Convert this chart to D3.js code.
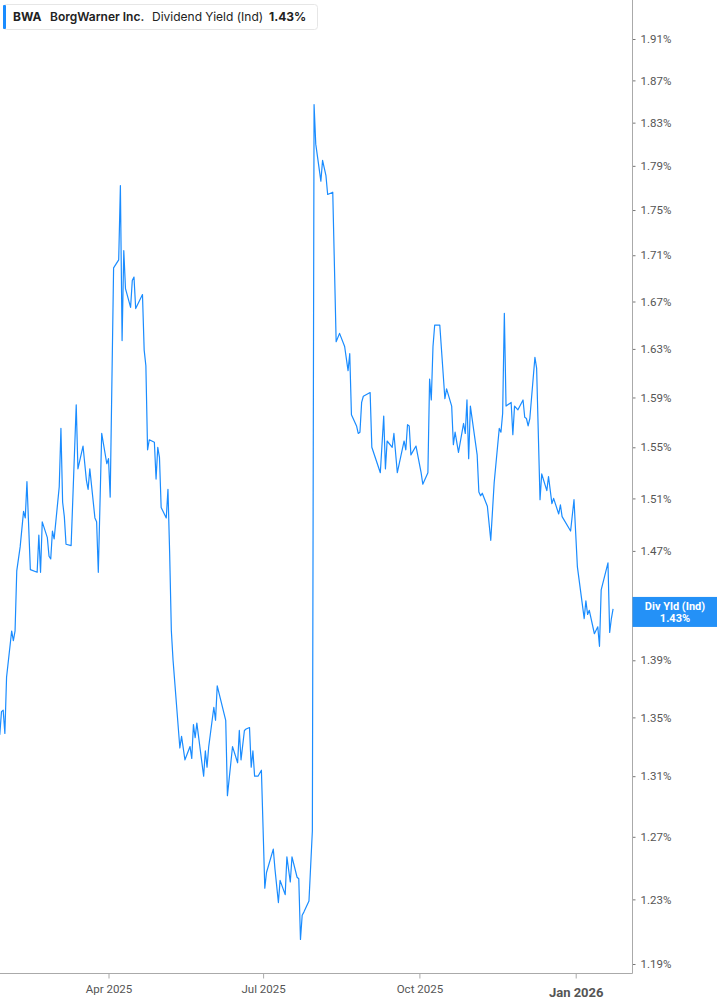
<!DOCTYPE html>
<html>
<head>
<meta charset="utf-8">
<script src="https://cdn.jsdelivr.net/npm/d3@7"></script>
<style>
  html, body { margin: 0; padding: 0; background: #fff; }
  svg { display: block; }
</style>
</head>
<body>
<div id="chart"></div>
<script>
// ---- data ----
const dates = [
  "2025-01-27","2025-01-28","2025-01-29","2025-01-30","2025-01-31",
  "2025-02-03","2025-02-04","2025-02-05","2025-02-06","2025-02-08","2025-02-10","2025-02-11","2025-02-12","2025-02-14","2025-02-18","2025-02-19","2025-02-20","2025-02-21","2025-02-24","2025-02-25","2025-02-26","2025-02-27","2025-02-28",
  "2025-03-03","2025-03-04","2025-03-05","2025-03-06","2025-03-07","2025-03-10","2025-03-13","2025-03-14","2025-03-17","2025-03-19","2025-03-20","2025-03-21","2025-03-24","2025-03-25","2025-03-26","2025-03-28","2025-03-31",
  "2025-04-01","2025-04-02","2025-04-04","2025-04-07","2025-04-08","2025-04-09","2025-04-10","2025-04-11","2025-04-14","2025-04-15","2025-04-16","2025-04-17","2025-04-21","2025-04-22","2025-04-23","2025-04-24","2025-04-25","2025-04-28","2025-04-29","2025-04-30",
  "2025-05-01","2025-05-02","2025-05-05","2025-05-06","2025-05-07","2025-05-08","2025-05-09","2025-05-13","2025-05-14","2025-05-16","2025-05-19","2025-05-20","2025-05-21","2025-05-22","2025-05-23","2025-05-27","2025-05-28","2025-05-29","2025-05-30",
  "2025-06-02","2025-06-03","2025-06-04","2025-06-09","2025-06-10","2025-06-13","2025-06-16","2025-06-17","2025-06-18","2025-06-20","2025-06-21","2025-06-23","2025-06-24","2025-06-25","2025-06-26","2025-06-28","2025-06-30",
  "2025-07-02","2025-07-03","2025-07-07","2025-07-08","2025-07-10","2025-07-11","2025-07-14","2025-07-15","2025-07-17","2025-07-18","2025-07-21","2025-07-22","2025-07-23","2025-07-24","2025-07-25","2025-07-28","2025-07-30","2025-07-31",
  "2025-08-01","2025-08-04","2025-08-05","2025-08-07","2025-08-08","2025-08-11","2025-08-13","2025-08-15","2025-08-18","2025-08-20","2025-08-21","2025-08-22","2025-08-25","2025-08-26","2025-08-27","2025-08-28","2025-08-29",
  "2025-09-02","2025-09-03","2025-09-08","2025-09-10","2025-09-11","2025-09-12","2025-09-15","2025-09-16","2025-09-18","2025-09-22","2025-09-23","2025-09-24","2025-09-25","2025-09-26","2025-09-29",
  "2025-10-02","2025-10-03","2025-10-06","2025-10-07","2025-10-08","2025-10-09","2025-10-10","2025-10-13","2025-10-16","2025-10-17","2025-10-20","2025-10-21","2025-10-22","2025-10-24","2025-10-27","2025-10-28","2025-10-29","2025-10-30","2025-10-31",
  "2025-11-04","2025-11-05","2025-11-06","2025-11-07","2025-11-10","2025-11-12","2025-11-14","2025-11-17","2025-11-18","2025-11-19","2025-11-20","2025-11-21","2025-11-24","2025-11-25","2025-11-26","2025-11-28",
  "2025-12-01","2025-12-02","2025-12-03","2025-12-04","2025-12-05","2025-12-08","2025-12-09","2025-12-11","2025-12-12","2025-12-15","2025-12-16","2025-12-18","2025-12-19","2025-12-22","2025-12-23","2025-12-24","2025-12-29","2025-12-31",
  "2026-01-02","2026-01-06","2026-01-07","2026-01-08","2026-01-09","2026-01-12","2026-01-14","2026-01-15","2026-01-16","2026-01-20","2026-01-21","2026-01-22","2026-01-23"
];
const yields = [
  1.338,1.354,1.355,1.339,1.378,
  1.411,1.404,1.411,1.455,1.473,1.500,1.495,1.523,1.456,1.454,1.482,1.454,1.492,1.480,1.466,1.464,1.485,1.479,
  1.519,1.565,1.507,1.496,1.475,1.474,1.584,1.533,1.551,1.524,1.517,1.533,1.495,1.492,1.454,1.561,1.537,
  1.541,1.511,1.699,1.706,1.772,1.637,1.714,1.681,1.665,1.688,1.691,1.664,1.676,1.629,1.616,1.548,1.556,1.554,1.525,1.550,
  1.542,1.503,1.495,1.517,1.468,1.411,1.390,1.329,1.337,1.321,1.330,1.322,1.345,1.336,1.346,1.310,1.327,1.316,1.330,
  1.357,1.348,1.372,1.348,1.297,1.330,1.319,1.341,1.321,1.341,1.342,1.343,1.316,1.327,1.310,1.310,1.314,
  1.237,1.247,1.262,1.249,1.228,1.242,1.233,1.257,1.241,1.257,1.244,1.243,1.205,1.220,1.222,1.229,1.274,1.847,
  1.810,1.776,1.795,1.781,1.764,1.766,1.636,1.643,1.632,1.612,1.626,1.576,1.567,1.561,1.562,1.586,1.591,
  1.594,1.550,1.530,1.575,1.533,1.555,1.550,1.561,1.530,1.555,1.548,1.568,1.567,1.544,1.551,
  1.530,1.521,1.530,1.605,1.588,1.632,1.650,1.650,1.589,1.597,1.583,1.552,1.562,1.546,1.569,1.561,1.588,1.541,1.583,
  1.544,1.515,1.512,1.514,1.504,1.478,1.522,1.565,1.562,1.577,1.660,1.583,1.586,1.560,1.583,1.580,
  1.588,1.574,1.573,1.567,1.573,1.623,1.614,1.509,1.529,1.516,1.527,1.506,1.510,1.498,1.505,1.496,1.485,1.509,
  1.458,1.420,1.433,1.423,1.426,1.409,1.414,1.400,1.441,1.461,1.410,1.420,1.427
];
const yTicks = [1.19,1.23,1.27,1.31,1.35,1.39,1.43,1.47,1.51,1.55,1.59,1.63,1.67,1.71,1.75,1.79,1.83,1.87,1.91];
const xTicks = ["2025-04-01","2025-07-01","2025-10-01","2026-01-01"];
const xTickLabels = ["Apr 2025","Jul 2025","Oct 2025","Jan 2026"];
const legendParts = ["BWA","BorgWarner Inc.","Dividend Yield (Ind)","1.43%"];
const badgeLines = ["Div Yld (Ind)","1.43%"];

// ---- drawing ----
const W = 717, H = 1005;
const plotRight = 632.5, plotBottom = 973.5;
const blue = "#1a8cff";
const parse = d3.timeParse("%Y-%m-%d");
const data = dates.map((d, i) => ({ date: parse(d), v: yields[i] }));

const x = d3.scaleTime()
  .domain([parse(xTicks[0]), parse(xTicks[3])])
  .range([108.5, 575.7]);
const y = d3.scaleLog()
  .domain([yTicks[0], yTicks[yTicks.length - 1]])
  .range([964, 39]);

const lastV = yields[yields.length - 1];
const by = y(lastV);
const badgeTop = by - 12, badgeH = 30;

const svg = d3.select("#chart").append("svg")
  .attr("width", W).attr("height", H)
  .style("font-family", "Roboto, 'Open Sans', sans-serif");

// line
svg.append("path")
  .datum(data)
  .attr("fill", "none")
  .attr("stroke", blue)
  .attr("stroke-width", 1.2)
  .attr("stroke-linejoin", "round")
  .attr("d", d3.line().x(d => x(d.date)).y(d => y(d.v)));

// right axis (ticks hidden behind the last-value badge are dropped)
const visibleYTicks = yTicks.filter(t => y(t) < badgeTop - 4 || y(t) > badgeTop + badgeH + 4);
const yAxis = d3.axisRight(y)
  .tickValues(visibleYTicks)
  .tickSize(3)
  .tickPadding(5)
  .tickFormat(d => d3.format(".2f")(d) + "%");
const gy = svg.append("g")
  .attr("transform", `translate(${plotRight},0)`)
  .call(yAxis);
gy.select(".domain").remove();
gy.selectAll(".tick line").attr("stroke", "#777");
gy.selectAll(".tick text")
  .attr("fill", "#555")
  .style("font-size", "11.5px")
  .style("font-family", "Roboto, sans-serif");
svg.append("line")
  .attr("x1", plotRight).attr("x2", plotRight)
  .attr("y1", 0).attr("y2", plotBottom)
  .attr("stroke", "#aaa").attr("stroke-width", 1);

// bottom axis
const xAxis = d3.axisBottom(x)
  .tickValues(xTicks.map(parse))
  .tickSize(5)
  .tickPadding(6)
  .tickFormat((d, i) => xTickLabels[i]);
const gx = svg.append("g")
  .attr("transform", `translate(0,${plotBottom})`)
  .call(xAxis);
gx.select(".domain").remove();
gx.selectAll(".tick line").attr("stroke", "#aaa");
gx.selectAll(".tick text")
  .attr("fill", "#555")
  .style("font-size", "11.5px")
  .style("font-family", "Roboto, sans-serif");
gx.selectAll(".tick text")
  .filter((d, i) => i === xTicks.length - 1)
  .attr("dy", "0.95em")
  .style("font-size", "13px")
  .style("font-weight", "bold");
svg.append("line")
  .attr("x1", 0).attr("x2", plotRight)
  .attr("y1", plotBottom).attr("y2", plotBottom)
  .attr("stroke", "#aaa").attr("stroke-width", 1);

// legend box
const lg = svg.append("g");
lg.append("rect")
  .attr("x", 3.5).attr("y", 4.5).attr("width", 314).attr("height", 25)
  .attr("rx", 3).attr("fill", "#fff").attr("stroke", "#e6e6e6");
lg.append("rect")
  .attr("x", 3).attr("y", 5).attr("width", 3).attr("height", 24)
  .attr("rx", 1).attr("fill", blue);
const legendX = [13, 50, 152, 269];
const legendW = [700, 600, 400, 700];
legendParts.forEach((t, i) => {
  lg.append("text")
    .attr("x", legendX[i]).attr("y", 21)
    .attr("fill", "#222")
    .style("font-family", "Inter, Roboto, sans-serif")
    .style("font-size", "12px")
    .style("font-weight", legendW[i])
    .text(t);
});

// last value badge
const badge = svg.append("g");
badge.append("rect")
  .attr("x", plotRight).attr("y", badgeTop)
  .attr("width", W - plotRight).attr("height", badgeH)
  .attr("fill", "#2491f7");
badgeLines.forEach((t, i) => {
  badge.append("text")
    .attr("x", 675).attr("y", by + 1 + i * 12)
    .attr("text-anchor", "middle")
    .attr("fill", "#fff")
    .style("font-family", "Roboto, sans-serif")
    .style("font-size", "11px")
    .style("font-weight", "bold")
    .text(t);
});
</script>
</body>
</html>
